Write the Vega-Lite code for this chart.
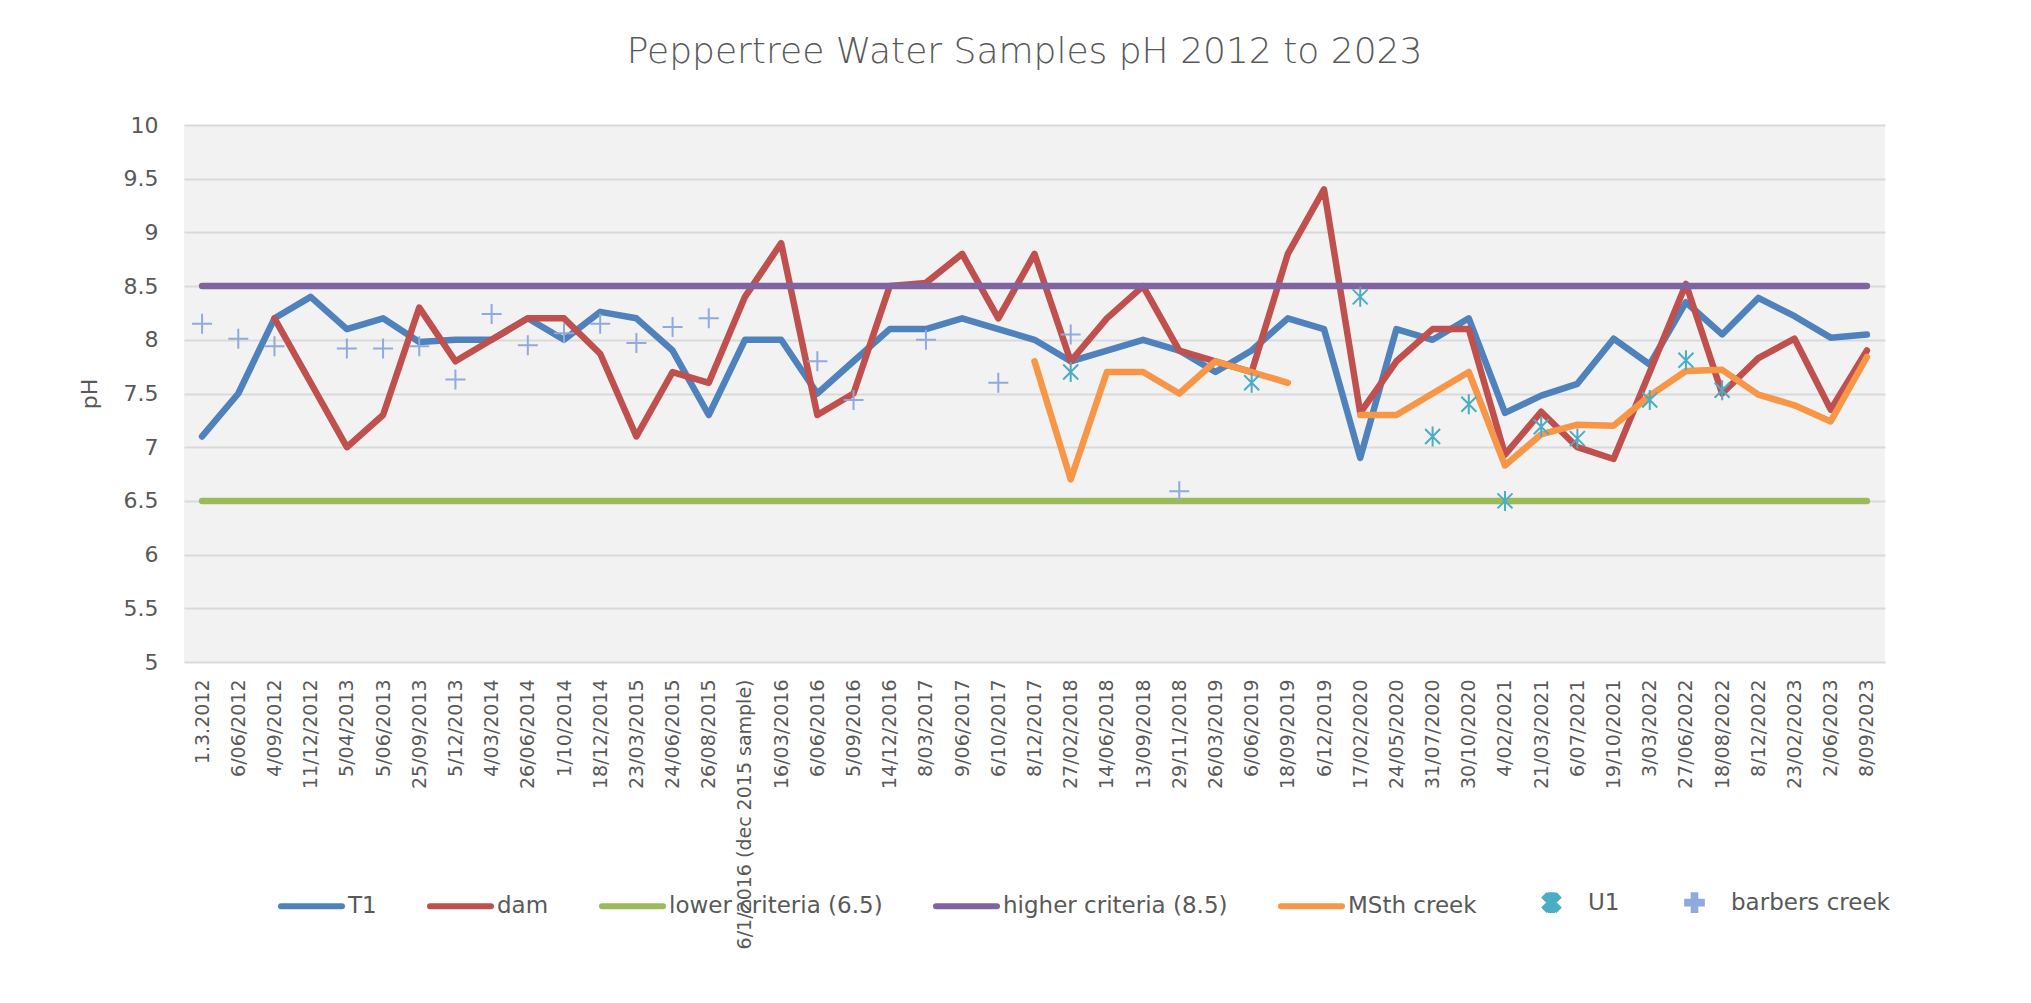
{
  "$schema": "https://vega.github.io/schema/vega-lite/v6.json",
  "width": 1701,
  "height": 537,
  "autosize": {"type": "none"},
  "padding": {"left": 184, "top": 125, "right": 146, "bottom": 341},
  "background": "white",
  "title": {"text": "Peppertree Water Samples pH 2012 to 2023", "font": "DejaVu Sans", "fontSize": 36, "fontWeight": 300, "color": "#595959", "anchor": "middle", "offset": 43, "dx": -10},
  "config": {
    "view": {"fill": "#F2F2F2", "stroke": null},
    "font": "DejaVu Sans"
  },
  "datasets": {
    "lines": [
      {"date": "1.3.2012", "series": "T1", "ph": 7.1},
      {"date": "6/06/2012", "series": "T1", "ph": 7.5},
      {"date": "4/09/2012", "series": "T1", "ph": 8.2},
      {"date": "11/12/2012", "series": "T1", "ph": 8.4},
      {"date": "5/04/2013", "series": "T1", "ph": 8.1},
      {"date": "5/06/2013", "series": "T1", "ph": 8.2},
      {"date": "25/09/2013", "series": "T1", "ph": 7.98},
      {"date": "5/12/2013", "series": "T1", "ph": 8.0},
      {"date": "4/03/2014", "series": "T1", "ph": 8.0},
      {"date": "26/06/2014", "series": "T1", "ph": 8.2},
      {"date": "1/10/2014", "series": "T1", "ph": 8.0},
      {"date": "18/12/2014", "series": "T1", "ph": 8.26},
      {"date": "23/03/2015", "series": "T1", "ph": 8.2},
      {"date": "24/06/2015", "series": "T1", "ph": 7.9},
      {"date": "26/08/2015", "series": "T1", "ph": 7.3},
      {"date": "6/1/2016 (dec 2015 sample)", "series": "T1", "ph": 8.0},
      {"date": "16/03/2016", "series": "T1", "ph": 8.0},
      {"date": "6/06/2016", "series": "T1", "ph": 7.5},
      {"date": "5/09/2016", "series": "T1", "ph": 7.8},
      {"date": "14/12/2016", "series": "T1", "ph": 8.1},
      {"date": "8/03/2017", "series": "T1", "ph": 8.1},
      {"date": "9/06/2017", "series": "T1", "ph": 8.2},
      {"date": "6/10/2017", "series": "T1", "ph": 8.1},
      {"date": "8/12/2017", "series": "T1", "ph": 8.0},
      {"date": "27/02/2018", "series": "T1", "ph": 7.8},
      {"date": "14/06/2018", "series": "T1", "ph": 7.9},
      {"date": "13/09/2018", "series": "T1", "ph": 8.0},
      {"date": "29/11/2018", "series": "T1", "ph": 7.9},
      {"date": "26/03/2019", "series": "T1", "ph": 7.7},
      {"date": "6/06/2019", "series": "T1", "ph": 7.9},
      {"date": "18/09/2019", "series": "T1", "ph": 8.2},
      {"date": "6/12/2019", "series": "T1", "ph": 8.1},
      {"date": "17/02/2020", "series": "T1", "ph": 6.9},
      {"date": "24/05/2020", "series": "T1", "ph": 8.1},
      {"date": "31/07/2020", "series": "T1", "ph": 8.0},
      {"date": "30/10/2020", "series": "T1", "ph": 8.2},
      {"date": "4/02/2021", "series": "T1", "ph": 7.32},
      {"date": "21/03/2021", "series": "T1", "ph": 7.48},
      {"date": "6/07/2021", "series": "T1", "ph": 7.59},
      {"date": "19/10/2021", "series": "T1", "ph": 8.01},
      {"date": "3/03/2022", "series": "T1", "ph": 7.77},
      {"date": "27/06/2022", "series": "T1", "ph": 8.35},
      {"date": "18/08/2022", "series": "T1", "ph": 8.05},
      {"date": "8/12/2022", "series": "T1", "ph": 8.39},
      {"date": "23/02/2023", "series": "T1", "ph": 8.22},
      {"date": "2/06/2023", "series": "T1", "ph": 8.02},
      {"date": "8/09/2023", "series": "T1", "ph": 8.05},

      {"date": "4/09/2012", "series": "dam", "ph": 8.2},
      {"date": "11/12/2012", "series": "dam", "ph": 7.6},
      {"date": "5/04/2013", "series": "dam", "ph": 7.0},
      {"date": "5/06/2013", "series": "dam", "ph": 7.3},
      {"date": "25/09/2013", "series": "dam", "ph": 8.3},
      {"date": "5/12/2013", "series": "dam", "ph": 7.8},
      {"date": "4/03/2014", "series": "dam", "ph": 8.0},
      {"date": "26/06/2014", "series": "dam", "ph": 8.2},
      {"date": "1/10/2014", "series": "dam", "ph": 8.2},
      {"date": "18/12/2014", "series": "dam", "ph": 7.87},
      {"date": "23/03/2015", "series": "dam", "ph": 7.1},
      {"date": "24/06/2015", "series": "dam", "ph": 7.7},
      {"date": "26/08/2015", "series": "dam", "ph": 7.6},
      {"date": "6/1/2016 (dec 2015 sample)", "series": "dam", "ph": 8.4},
      {"date": "16/03/2016", "series": "dam", "ph": 8.9},
      {"date": "6/06/2016", "series": "dam", "ph": 7.3},
      {"date": "5/09/2016", "series": "dam", "ph": 7.5},
      {"date": "14/12/2016", "series": "dam", "ph": 8.5},
      {"date": "8/03/2017", "series": "dam", "ph": 8.53},
      {"date": "9/06/2017", "series": "dam", "ph": 8.8},
      {"date": "6/10/2017", "series": "dam", "ph": 8.2},
      {"date": "8/12/2017", "series": "dam", "ph": 8.8},
      {"date": "27/02/2018", "series": "dam", "ph": 7.8},
      {"date": "14/06/2018", "series": "dam", "ph": 8.2},
      {"date": "13/09/2018", "series": "dam", "ph": 8.5},
      {"date": "29/11/2018", "series": "dam", "ph": 7.9},
      {"date": "26/03/2019", "series": "dam", "ph": 7.8},
      {"date": "6/06/2019", "series": "dam", "ph": 7.7},
      {"date": "18/09/2019", "series": "dam", "ph": 8.8},
      {"date": "6/12/2019", "series": "dam", "ph": 9.4},
      {"date": "17/02/2020", "series": "dam", "ph": 7.32},
      {"date": "24/05/2020", "series": "dam", "ph": 7.8},
      {"date": "31/07/2020", "series": "dam", "ph": 8.1},
      {"date": "30/10/2020", "series": "dam", "ph": 8.1},
      {"date": "4/02/2021", "series": "dam", "ph": 6.93},
      {"date": "21/03/2021", "series": "dam", "ph": 7.33},
      {"date": "6/07/2021", "series": "dam", "ph": 7.0},
      {"date": "19/10/2021", "series": "dam", "ph": 6.89},
      {"date": "3/03/2022", "series": "dam", "ph": 7.7},
      {"date": "27/06/2022", "series": "dam", "ph": 8.52},
      {"date": "18/08/2022", "series": "dam", "ph": 7.5},
      {"date": "8/12/2022", "series": "dam", "ph": 7.83},
      {"date": "23/02/2023", "series": "dam", "ph": 8.01},
      {"date": "2/06/2023", "series": "dam", "ph": 7.35},
      {"date": "8/09/2023", "series": "dam", "ph": 7.9},

      {"date": "1.3.2012", "series": "lower criteria (6.5)", "ph": 6.5},
      {"date": "6/06/2012", "series": "lower criteria (6.5)", "ph": 6.5},
      {"date": "4/09/2012", "series": "lower criteria (6.5)", "ph": 6.5},
      {"date": "11/12/2012", "series": "lower criteria (6.5)", "ph": 6.5},
      {"date": "5/04/2013", "series": "lower criteria (6.5)", "ph": 6.5},
      {"date": "5/06/2013", "series": "lower criteria (6.5)", "ph": 6.5},
      {"date": "25/09/2013", "series": "lower criteria (6.5)", "ph": 6.5},
      {"date": "5/12/2013", "series": "lower criteria (6.5)", "ph": 6.5},
      {"date": "4/03/2014", "series": "lower criteria (6.5)", "ph": 6.5},
      {"date": "26/06/2014", "series": "lower criteria (6.5)", "ph": 6.5},
      {"date": "1/10/2014", "series": "lower criteria (6.5)", "ph": 6.5},
      {"date": "18/12/2014", "series": "lower criteria (6.5)", "ph": 6.5},
      {"date": "23/03/2015", "series": "lower criteria (6.5)", "ph": 6.5},
      {"date": "24/06/2015", "series": "lower criteria (6.5)", "ph": 6.5},
      {"date": "26/08/2015", "series": "lower criteria (6.5)", "ph": 6.5},
      {"date": "6/1/2016 (dec 2015 sample)", "series": "lower criteria (6.5)", "ph": 6.5},
      {"date": "16/03/2016", "series": "lower criteria (6.5)", "ph": 6.5},
      {"date": "6/06/2016", "series": "lower criteria (6.5)", "ph": 6.5},
      {"date": "5/09/2016", "series": "lower criteria (6.5)", "ph": 6.5},
      {"date": "14/12/2016", "series": "lower criteria (6.5)", "ph": 6.5},
      {"date": "8/03/2017", "series": "lower criteria (6.5)", "ph": 6.5},
      {"date": "9/06/2017", "series": "lower criteria (6.5)", "ph": 6.5},
      {"date": "6/10/2017", "series": "lower criteria (6.5)", "ph": 6.5},
      {"date": "8/12/2017", "series": "lower criteria (6.5)", "ph": 6.5},
      {"date": "27/02/2018", "series": "lower criteria (6.5)", "ph": 6.5},
      {"date": "14/06/2018", "series": "lower criteria (6.5)", "ph": 6.5},
      {"date": "13/09/2018", "series": "lower criteria (6.5)", "ph": 6.5},
      {"date": "29/11/2018", "series": "lower criteria (6.5)", "ph": 6.5},
      {"date": "26/03/2019", "series": "lower criteria (6.5)", "ph": 6.5},
      {"date": "6/06/2019", "series": "lower criteria (6.5)", "ph": 6.5},
      {"date": "18/09/2019", "series": "lower criteria (6.5)", "ph": 6.5},
      {"date": "6/12/2019", "series": "lower criteria (6.5)", "ph": 6.5},
      {"date": "17/02/2020", "series": "lower criteria (6.5)", "ph": 6.5},
      {"date": "24/05/2020", "series": "lower criteria (6.5)", "ph": 6.5},
      {"date": "31/07/2020", "series": "lower criteria (6.5)", "ph": 6.5},
      {"date": "30/10/2020", "series": "lower criteria (6.5)", "ph": 6.5},
      {"date": "4/02/2021", "series": "lower criteria (6.5)", "ph": 6.5},
      {"date": "21/03/2021", "series": "lower criteria (6.5)", "ph": 6.5},
      {"date": "6/07/2021", "series": "lower criteria (6.5)", "ph": 6.5},
      {"date": "19/10/2021", "series": "lower criteria (6.5)", "ph": 6.5},
      {"date": "3/03/2022", "series": "lower criteria (6.5)", "ph": 6.5},
      {"date": "27/06/2022", "series": "lower criteria (6.5)", "ph": 6.5},
      {"date": "18/08/2022", "series": "lower criteria (6.5)", "ph": 6.5},
      {"date": "8/12/2022", "series": "lower criteria (6.5)", "ph": 6.5},
      {"date": "23/02/2023", "series": "lower criteria (6.5)", "ph": 6.5},
      {"date": "2/06/2023", "series": "lower criteria (6.5)", "ph": 6.5},
      {"date": "8/09/2023", "series": "lower criteria (6.5)", "ph": 6.5},

      {"date": "1.3.2012", "series": "higher criteria (8.5)", "ph": 8.5},
      {"date": "6/06/2012", "series": "higher criteria (8.5)", "ph": 8.5},
      {"date": "4/09/2012", "series": "higher criteria (8.5)", "ph": 8.5},
      {"date": "11/12/2012", "series": "higher criteria (8.5)", "ph": 8.5},
      {"date": "5/04/2013", "series": "higher criteria (8.5)", "ph": 8.5},
      {"date": "5/06/2013", "series": "higher criteria (8.5)", "ph": 8.5},
      {"date": "25/09/2013", "series": "higher criteria (8.5)", "ph": 8.5},
      {"date": "5/12/2013", "series": "higher criteria (8.5)", "ph": 8.5},
      {"date": "4/03/2014", "series": "higher criteria (8.5)", "ph": 8.5},
      {"date": "26/06/2014", "series": "higher criteria (8.5)", "ph": 8.5},
      {"date": "1/10/2014", "series": "higher criteria (8.5)", "ph": 8.5},
      {"date": "18/12/2014", "series": "higher criteria (8.5)", "ph": 8.5},
      {"date": "23/03/2015", "series": "higher criteria (8.5)", "ph": 8.5},
      {"date": "24/06/2015", "series": "higher criteria (8.5)", "ph": 8.5},
      {"date": "26/08/2015", "series": "higher criteria (8.5)", "ph": 8.5},
      {"date": "6/1/2016 (dec 2015 sample)", "series": "higher criteria (8.5)", "ph": 8.5},
      {"date": "16/03/2016", "series": "higher criteria (8.5)", "ph": 8.5},
      {"date": "6/06/2016", "series": "higher criteria (8.5)", "ph": 8.5},
      {"date": "5/09/2016", "series": "higher criteria (8.5)", "ph": 8.5},
      {"date": "14/12/2016", "series": "higher criteria (8.5)", "ph": 8.5},
      {"date": "8/03/2017", "series": "higher criteria (8.5)", "ph": 8.5},
      {"date": "9/06/2017", "series": "higher criteria (8.5)", "ph": 8.5},
      {"date": "6/10/2017", "series": "higher criteria (8.5)", "ph": 8.5},
      {"date": "8/12/2017", "series": "higher criteria (8.5)", "ph": 8.5},
      {"date": "27/02/2018", "series": "higher criteria (8.5)", "ph": 8.5},
      {"date": "14/06/2018", "series": "higher criteria (8.5)", "ph": 8.5},
      {"date": "13/09/2018", "series": "higher criteria (8.5)", "ph": 8.5},
      {"date": "29/11/2018", "series": "higher criteria (8.5)", "ph": 8.5},
      {"date": "26/03/2019", "series": "higher criteria (8.5)", "ph": 8.5},
      {"date": "6/06/2019", "series": "higher criteria (8.5)", "ph": 8.5},
      {"date": "18/09/2019", "series": "higher criteria (8.5)", "ph": 8.5},
      {"date": "6/12/2019", "series": "higher criteria (8.5)", "ph": 8.5},
      {"date": "17/02/2020", "series": "higher criteria (8.5)", "ph": 8.5},
      {"date": "24/05/2020", "series": "higher criteria (8.5)", "ph": 8.5},
      {"date": "31/07/2020", "series": "higher criteria (8.5)", "ph": 8.5},
      {"date": "30/10/2020", "series": "higher criteria (8.5)", "ph": 8.5},
      {"date": "4/02/2021", "series": "higher criteria (8.5)", "ph": 8.5},
      {"date": "21/03/2021", "series": "higher criteria (8.5)", "ph": 8.5},
      {"date": "6/07/2021", "series": "higher criteria (8.5)", "ph": 8.5},
      {"date": "19/10/2021", "series": "higher criteria (8.5)", "ph": 8.5},
      {"date": "3/03/2022", "series": "higher criteria (8.5)", "ph": 8.5},
      {"date": "27/06/2022", "series": "higher criteria (8.5)", "ph": 8.5},
      {"date": "18/08/2022", "series": "higher criteria (8.5)", "ph": 8.5},
      {"date": "8/12/2022", "series": "higher criteria (8.5)", "ph": 8.5},
      {"date": "23/02/2023", "series": "higher criteria (8.5)", "ph": 8.5},
      {"date": "2/06/2023", "series": "higher criteria (8.5)", "ph": 8.5},
      {"date": "8/09/2023", "series": "higher criteria (8.5)", "ph": 8.5},

      {"date": "8/12/2017", "series": "MSth creek", "part": "a", "ph": 7.8},
      {"date": "27/02/2018", "series": "MSth creek", "part": "a", "ph": 6.7},
      {"date": "14/06/2018", "series": "MSth creek", "part": "a", "ph": 7.7},
      {"date": "13/09/2018", "series": "MSth creek", "part": "a", "ph": 7.7},
      {"date": "29/11/2018", "series": "MSth creek", "part": "a", "ph": 7.5},
      {"date": "26/03/2019", "series": "MSth creek", "part": "a", "ph": 7.8},
      {"date": "6/06/2019", "series": "MSth creek", "part": "a", "ph": 7.7},
      {"date": "18/09/2019", "series": "MSth creek", "part": "a", "ph": 7.6},
      {"date": "17/02/2020", "series": "MSth creek", "part": "b", "ph": 7.3},
      {"date": "24/05/2020", "series": "MSth creek", "part": "b", "ph": 7.3},
      {"date": "31/07/2020", "series": "MSth creek", "part": "b", "ph": 7.5},
      {"date": "30/10/2020", "series": "MSth creek", "part": "b", "ph": 7.7},
      {"date": "4/02/2021", "series": "MSth creek", "part": "b", "ph": 6.83},
      {"date": "21/03/2021", "series": "MSth creek", "part": "b", "ph": 7.12},
      {"date": "6/07/2021", "series": "MSth creek", "part": "b", "ph": 7.21},
      {"date": "19/10/2021", "series": "MSth creek", "part": "b", "ph": 7.2},
      {"date": "3/03/2022", "series": "MSth creek", "part": "b", "ph": 7.48},
      {"date": "27/06/2022", "series": "MSth creek", "part": "b", "ph": 7.71},
      {"date": "18/08/2022", "series": "MSth creek", "part": "b", "ph": 7.72},
      {"date": "8/12/2022", "series": "MSth creek", "part": "b", "ph": 7.49},
      {"date": "23/02/2023", "series": "MSth creek", "part": "b", "ph": 7.39},
      {"date": "2/06/2023", "series": "MSth creek", "part": "b", "ph": 7.24},
      {"date": "8/09/2023", "series": "MSth creek", "part": "b", "ph": 7.84}
    ],
    "points": [
      {"date": "27/02/2018", "series": "U1", "ph": 7.7},
      {"date": "6/06/2019", "series": "U1", "ph": 7.6},
      {"date": "17/02/2020", "series": "U1", "ph": 8.4},
      {"date": "31/07/2020", "series": "U1", "ph": 7.1},
      {"date": "30/10/2020", "series": "U1", "ph": 7.4},
      {"date": "4/02/2021", "series": "U1", "ph": 6.5},
      {"date": "21/03/2021", "series": "U1", "ph": 7.19},
      {"date": "6/07/2021", "series": "U1", "ph": 7.08},
      {"date": "3/03/2022", "series": "U1", "ph": 7.44},
      {"date": "27/06/2022", "series": "U1", "ph": 7.81},
      {"date": "18/08/2022", "series": "U1", "ph": 7.53},
      {"date": "1.3.2012", "series": "barbers creek", "ph": 8.15},
      {"date": "6/06/2012", "series": "barbers creek", "ph": 8.01},
      {"date": "4/09/2012", "series": "barbers creek", "ph": 7.94},
      {"date": "5/04/2013", "series": "barbers creek", "ph": 7.92},
      {"date": "5/06/2013", "series": "barbers creek", "ph": 7.92},
      {"date": "25/09/2013", "series": "barbers creek", "ph": 7.94},
      {"date": "5/12/2013", "series": "barbers creek", "ph": 7.63},
      {"date": "4/03/2014", "series": "barbers creek", "ph": 8.24},
      {"date": "26/06/2014", "series": "barbers creek", "ph": 7.95},
      {"date": "1/10/2014", "series": "barbers creek", "ph": 8.06},
      {"date": "18/12/2014", "series": "barbers creek", "ph": 8.15},
      {"date": "23/03/2015", "series": "barbers creek", "ph": 7.97},
      {"date": "24/06/2015", "series": "barbers creek", "ph": 8.12},
      {"date": "26/08/2015", "series": "barbers creek", "ph": 8.2},
      {"date": "6/06/2016", "series": "barbers creek", "ph": 7.8},
      {"date": "5/09/2016", "series": "barbers creek", "ph": 7.44},
      {"date": "8/03/2017", "series": "barbers creek", "ph": 8.0},
      {"date": "6/10/2017", "series": "barbers creek", "ph": 7.6},
      {"date": "27/02/2018", "series": "barbers creek", "ph": 8.05},
      {"date": "29/11/2018", "series": "barbers creek", "ph": 6.59}
    ]
  },
  "encoding": {
    "x": {
      "field": "date", "type": "ordinal",
      "scale": {"type": "point", "padding": 0.5, "domain": ["1.3.2012","6/06/2012","4/09/2012","11/12/2012","5/04/2013","5/06/2013","25/09/2013","5/12/2013","4/03/2014","26/06/2014","1/10/2014","18/12/2014","23/03/2015","24/06/2015","26/08/2015","6/1/2016 (dec 2015 sample)","16/03/2016","6/06/2016","5/09/2016","14/12/2016","8/03/2017","9/06/2017","6/10/2017","8/12/2017","27/02/2018","14/06/2018","13/09/2018","29/11/2018","26/03/2019","6/06/2019","18/09/2019","6/12/2019","17/02/2020","24/05/2020","31/07/2020","30/10/2020","4/02/2021","21/03/2021","6/07/2021","19/10/2021","3/03/2022","27/06/2022","18/08/2022","8/12/2022","23/02/2023","2/06/2023","8/09/2023"]},
      "axis": {"title": null, "labelAngle": 270, "labelAlign": "right", "labelBaseline": "middle", "labelFont": "DejaVu Sans", "labelFontSize": 19, "labelColor": "#595959", "labelPadding": 17, "ticks": false, "domain": false, "grid": false, "labelLimit": 500, "labelOverlap": false}
    },
    "y": {
      "field": "ph", "type": "quantitative",
      "scale": {"domain": [5, 10], "nice": false, "zero": false},
      "axis": {"title": "pH", "titleFont": "DejaVu Sans", "titleFontSize": 22, "titleFontWeight": "normal", "titleColor": "#595959", "titlePadding": 22, "labelFont": "DejaVu Sans", "labelFontSize": 22, "labelColor": "#595959", "labelPadding": 26, "ticks": false, "domain": false, "gridColor": "#D9D9D9", "gridWidth": 2, "values": [5, 5.5, 6, 6.5, 7, 7.5, 8, 8.5, 9, 9.5, 10], "format": "~g"}
    },
    "color": {"field": "series", "type": "nominal",
      "scale": {"domain": ["T1", "dam", "lower criteria (6.5)", "higher criteria (8.5)", "MSth creek", "U1", "barbers creek"], "range": ["#4F81BD", "#C0504D", "#9BBB59", "#8064A2", "#F79646", "#4BACC6", "#8FAADC"]},
      "legend": {
        "title": null, "orient": "none", "legendX": 94, "legendY": 744, "direction": "horizontal", "columns": 7,
        "symbolType": "stroke", "symbolSize": 3721, "symbolStrokeWidth": 6,
        "labelFont": "DejaVu Sans", "labelFontSize": 23, "labelColor": "#595959", "labelOffset": 3, "labelLimit": 500,
        "columnPadding": 41, "padding": 0,
        "encode": {
          "symbols": {
            "update": {
              "shape": {"signal": "datum.value === 'U1' ? 'M-0.2,-0.165L0.165,0.2L0.2,0.165L-0.165,-0.2ZM-0.165,0.2L0.2,-0.165L0.165,-0.2L-0.2,0.165ZM-0.026,-0.24H0.026V0.24H-0.026Z' : datum.value === 'barbers creek' ? 'M-0.24,-0.026H0.24V0.026H-0.24ZM-0.026,-0.24H0.026V0.24H-0.026Z' : 'stroke'"},
              "size": {"value": 3721},
              "strokeWidth": {"value": 6},
              "strokeCap": {"value": "round"},
              "fill": {"signal": "datum.value === 'U1' ? '#4BACC6' : datum.value === 'barbers creek' ? '#8FAADC' : 'transparent'"},
              "stroke": {"signal": "datum.value === 'U1' || datum.value === 'barbers creek' ? 'transparent' : scale('color', datum.value)"},
              "opacity": {"value": 1}
            }
          }
        }
      }
    }
  },
  "layer": [
    {
      "data": {"name": "lines"},
      "mark": {"type": "line", "strokeWidth": 6.5, "strokeCap": "round", "strokeJoin": "round"},
      "encoding": {
        "detail": {"field": "part"}
      }
    },
    {
      "data": {"name": "points"},
      "mark": {"type": "point", "filled": false, "strokeWidth": 2, "size": 400, "opacity": 1},
      "encoding": {
        "shape": {"field": "series", "type": "nominal",
          "scale": {"domain": ["U1", "barbers creek"], "range": ["M-0.75,-0.75L0.75,0.75M-0.75,0.75L0.75,-0.75M0,-1V1", "M-1,0H1M0,-1V1"]},
          "legend": null}
      }
    }
  ]
}
